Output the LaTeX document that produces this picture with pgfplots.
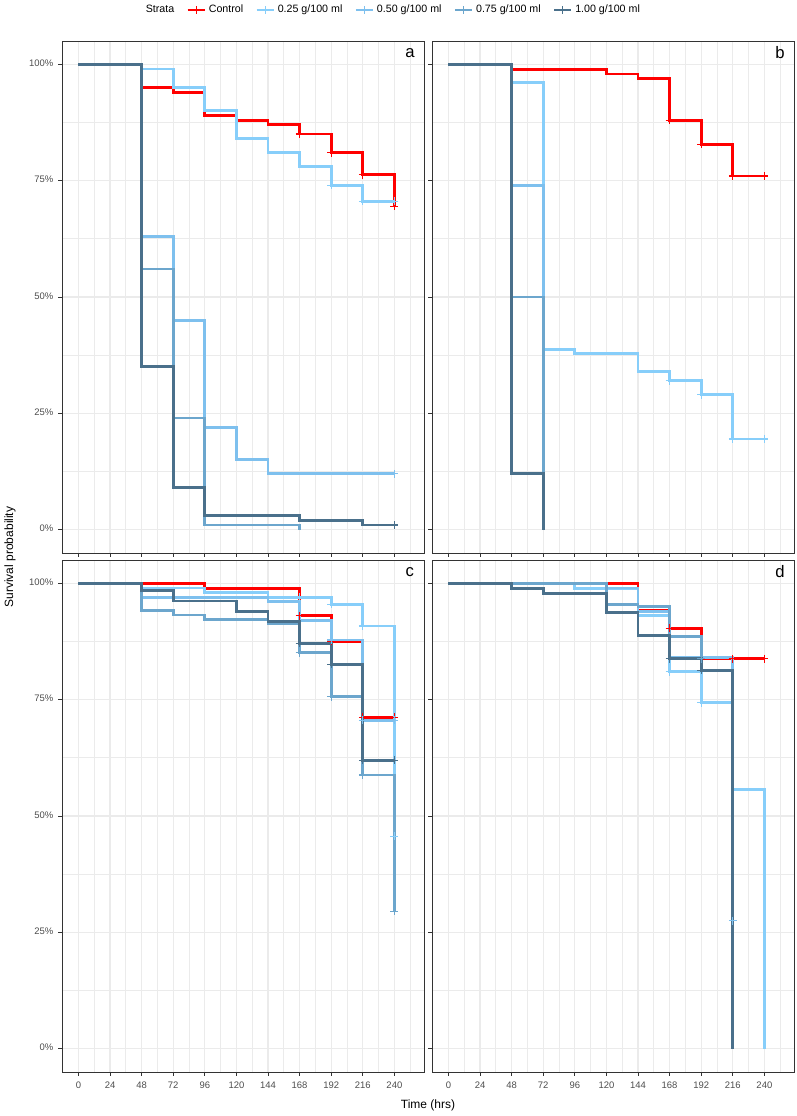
\documentclass[border=0pt]{standalone}
\usepackage{fontspec}
\setmainfont{Liberation Sans}
\usepackage{pgfplots}
\pgfplotsset{compat=1.18}
\definecolor{c0}{HTML}{FF0000}
\definecolor{c1}{HTML}{87CEFA}
\definecolor{c2}{HTML}{7EC0EE}
\definecolor{c3}{HTML}{6CA6CD}
\definecolor{c4}{HTML}{4A708B}
\definecolor{gridc}{HTML}{EBEBEB}
\definecolor{g20}{HTML}{333333}
\definecolor{g30}{HTML}{4D4D4D}
\tikzset{plab/.style={font=\fontsize{12.5}{14}\selectfont}}
\pgfplotsset{
  km/.style={scale only axis, width=271.5pt, height=384pt,
    xmin=-12.5, xmax=262.5, ymin=-0.05, ymax=1.05,
    xtick={0,24,...,240}, minor xtick={-12,12,...,252},
    ytick={0,0.25,0.5,0.75,1}, minor ytick={0.125,0.375,0.625,0.875},
    grid=both, major grid style={gridc, line width=0.9pt}, minor grid style={gridc, line width=0.6pt},
    axis line style={g20, line width=0.65pt}, tick style={g20, line width=0.6pt},
    major tick length=3pt, minor tick length=0pt, tick align=outside,
    xtick pos=bottom, ytick pos=left, typeset ticklabels with strut,
    ticklabel style={font=\fontsize{7.1}{8}\selectfont, text=g30},
    xticklabels={0,24,48,72,96,120,144,168,192,216,240},
    yticklabels={0\%,25\%,50\%,75\%,100\%}},
  st/.style={const plot, line width=2.1pt, no marks, forget plot},
  cm/.style={only marks, mark=+, mark size=3pt, mark options={line width=0.9pt}, forget plot},
}
\begin{document}
\begin{tikzpicture}[x=0.75pt,y=0.75pt]
\path[use as bounding box] (0,0) rectangle (796,1116);
% ---------------- panel a
\begin{axis}[km, at={(46.5pt,422.25pt)}, anchor=south west, xticklabels={},
  legend columns=6,
  legend style={at={(axis description cs:0.914,1.0605)}, anchor=center, draw=none, fill=none,
    font=\fontsize{8}{9.5}\selectfont, inner sep=0pt,
    /tikz/every even column/.append style={column sep=7pt}},
  legend image code/.code={\draw[#1, mark repeat=2, mark phase=2] plot coordinates {(0pt,0pt) (6.4pt,0pt) (12.8pt,0pt)};}]
\addlegendimage{empty legend}\addlegendentry{Strata}
\addlegendimage{c0, line width=2.1pt, mark=+, mark size=3pt, mark options={line width=0.9pt}}\addlegendentry{Control}
\addlegendimage{c1, line width=2.1pt, mark=+, mark size=3pt, mark options={line width=0.9pt}}\addlegendentry{0.25 g/100 ml}
\addlegendimage{c2, line width=2.1pt, mark=+, mark size=3pt, mark options={line width=0.9pt}}\addlegendentry{0.50 g/100 ml}
\addlegendimage{c3, line width=2.1pt, mark=+, mark size=3pt, mark options={line width=0.9pt}}\addlegendentry{0.75 g/100 ml}
\addlegendimage{c4, line width=2.1pt, mark=+, mark size=3pt, mark options={line width=0.9pt}}\addlegendentry{1.00 g/100 ml}
\addplot[st, c0] coordinates {(0,1) (48,0.95) (72,0.94) (96,0.89) (120,0.88) (144,0.87) (168,0.85) (192,0.81) (216,0.763) (240,0.695)};
\addplot[st, c1] coordinates {(0,1) (48,0.99) (72,0.95) (96,0.90) (120,0.84) (144,0.81) (168,0.78) (192,0.74) (216,0.706) (240,0.706)};
\addplot[st, c2] coordinates {(0,1) (48,0.63) (72,0.45) (96,0.22) (120,0.15) (144,0.12) (240,0.12)};
\addplot[st, c3] coordinates {(0,1) (48,0.56) (72,0.24) (96,0.01) (168,0)};
\addplot[st, c4] coordinates {(0,1) (48,0.35) (72,0.09) (96,0.03) (168,0.02) (216,0.01) (240,0.01)};
\addplot[cm, c0] coordinates {(168,0.85) (192,0.81) (216,0.763) (240,0.695)};
\addplot[cm, c1] coordinates {(192,0.74) (216,0.706) (240,0.706)};
\addplot[cm, c2] coordinates {(240,0.12)};
\addplot[cm, c4] coordinates {(240,0.01)};
\node[plab] at (axis description cs:0.961,0.977) {a};
\end{axis}
% ---------------- panel b
\begin{axis}[km, at={(324pt,422.25pt)}, anchor=south west, xticklabels={}, yticklabels={}]
\addplot[st, c0] coordinates {(0,1) (48,0.989) (120,0.979) (144,0.969) (168,0.88) (192,0.828) (216,0.76) (240,0.76)};
\addplot[st, c1] coordinates {(0,1) (48,0.96) (72,0.388) (96,0.379) (144,0.34) (168,0.32) (192,0.29) (216,0.195) (240,0.195)};
\addplot[st, c2] coordinates {(0,1) (48,0.74) (72,0)};
\addplot[st, c3] coordinates {(0,1) (48,0.50) (72,0)};
\addplot[st, c4] coordinates {(0,1) (48,0.12) (72,0)};
\addplot[cm, c0] coordinates {(168,0.88) (192,0.828) (216,0.76) (240,0.76)};
\addplot[cm, c1] coordinates {(168,0.32) (192,0.29) (216,0.195) (240,0.195)};
\node[plab] at (axis description cs:0.961,0.977) {b};
\end{axis}
% ---------------- panel c
\begin{axis}[km, at={(46.5pt,33pt)}, anchor=south west]
\addplot[st, c0] coordinates {(0,1) (96,0.989) (168,0.93) (192,0.875) (216,0.712) (240,0.712)};
\addplot[st, c1] coordinates {(0,1) (48,0.99) (96,0.98) (144,0.97) (192,0.955) (216,0.908) (240,0.456)};
\addplot[st, c2] coordinates {(0,1) (48,0.97) (144,0.96) (168,0.92) (192,0.878) (216,0.706) (240,0.706)};
\addplot[st, c3] coordinates {(0,1) (48,0.942) (72,0.932) (96,0.922) (144,0.913) (168,0.851) (192,0.756) (216,0.588) (240,0.295)};
\addplot[st, c4] coordinates {(0,1) (48,0.985) (72,0.962) (120,0.94) (144,0.917) (168,0.871) (192,0.826) (216,0.62) (240,0.62)};
\addplot[cm, c0] coordinates {(168,0.93) (192,0.875) (216,0.712) (240,0.712)};
\addplot[cm, c1] coordinates {(168,0.97) (192,0.955) (216,0.908) (240,0.456)};
\addplot[cm, c2] coordinates {(192,0.878) (216,0.706) (240,0.706)};
\addplot[cm, c3] coordinates {(168,0.851) (192,0.756) (216,0.588) (240,0.295)};
\addplot[cm, c4] coordinates {(168,0.871) (192,0.826) (216,0.62) (240,0.62)};
\node[plab] at (axis description cs:0.961,0.977) {c};
\end{axis}
% ---------------- panel d
\begin{axis}[km, at={(324pt,33pt)}, anchor=south west, yticklabels={}]
\addplot[st, c0] coordinates {(0,1) (144,0.942) (168,0.903) (192,0.838) (240,0.838)};
\addplot[st, c1] coordinates {(0,1) (96,0.989) (144,0.93) (168,0.81) (192,0.743) (216,0.557) (240,0)};
\addplot[st, c2] coordinates {(0,1) (120,0.99) (144,0.94) (168,0.84) (216,0.275)};
\addplot[st, c3] coordinates {(0,1) (120,0.955) (144,0.95) (168,0.885) (192,0.838)};
\addplot[st, c4] coordinates {(0,1) (48,0.989) (72,0.978) (120,0.938) (144,0.887) (168,0.838) (192,0.813) (216,0)};
\addplot[cm, c0] coordinates {(168,0.903) (216,0.838) (240,0.838)};
\addplot[cm, c1] coordinates {(168,0.81) (192,0.743)};
\addplot[cm, c2] coordinates {(216,0.275)};
\addplot[cm, c3] coordinates {(192,0.838)};
\addplot[cm, c4] coordinates {(168,0.838) (192,0.813)};
\node[plab] at (axis description cs:0.961,0.977) {d};
\end{axis}
\node[rotate=90, font=\fontsize{9}{11}\selectfont] at (10,559) {Survival probability};
\node[font=\fontsize{9}{11}\selectfont] at (428,11) {Time (hrs)};
\end{tikzpicture}
\end{document}
